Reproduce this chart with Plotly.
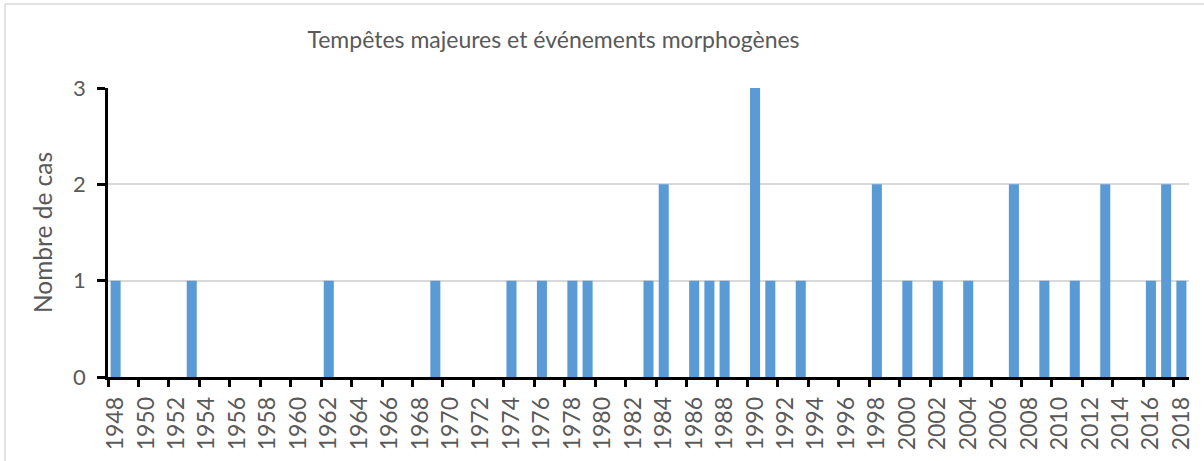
import plotly.graph_objects as go

# Nombre de tempêtes majeures / événements morphogènes par année
years = list(range(1948, 2019))
event_years = [1948, 1953, 1962, 1969, 1974, 1976, 1978, 1979, 1983, 1984,
               1986, 1987, 1988, 1990, 1991, 1993, 1998, 2000, 2002, 2004,
               2007, 2009, 2011, 2013, 2016, 2017, 2018]
event_counts = [1, 1, 1, 1, 1, 1, 1, 1, 1, 2,
                1, 1, 1, 3, 1, 1, 2, 1, 1, 1,
                2, 1, 1, 2, 1, 2, 1]
label_years = list(range(1948, 2019, 2))
y_ticks = [0, 1, 2, 3]

counts = {y: 0 for y in years}
for y, c in zip(event_years, event_counts):
    counts[y] = c
values = [counts[y] for y in years]

W, H = 1204, 461
L, R, T, B = 108, 15, 88, 84
pw, ph = W - L - R, H - T - B

text_col = "#595959"
font = "Lato"

fig = go.Figure()
fig.add_trace(go.Bar(x=years, y=values, marker_color="#5B9BD5",
                     marker_line_width=0, width=0.66, xaxis="x", yaxis="y"))

# invisible trace carrying the boundary tick axis
fig.add_trace(go.Scatter(x=[years[0]], y=[0], mode="markers",
                         marker=dict(opacity=0), xaxis="x2", yaxis="y",
                         hoverinfo="skip", showlegend=False))

fig.update_layout(
    width=W, height=H,
    margin=dict(l=L, r=R, t=T, b=B),
    paper_bgcolor="white", plot_bgcolor="white",
    showlegend=False,
    font=dict(family=font, color=text_col, size=21),
    xaxis=dict(
        range=[years[0] - 0.5, years[-1] + 0.5],
        tickmode="array", tickvals=label_years,
        ticktext=[str(y) for y in label_years],
        tickangle=-90, ticks="", ticklen=0, ticklabelstandoff=8,
        showgrid=False, zeroline=False,
        showline=True, linecolor="black", linewidth=2.5,
        tickfont=dict(size=23, color=text_col, family=font),
        automargin=False, fixedrange=True,
    ),
    xaxis2=dict(
        overlaying="x", matches="x", side="bottom",
        tickmode="array", tickvals=[y - 0.5 for y in label_years],
        showticklabels=False, ticks="outside", ticklen=9,
        tickwidth=2.5, tickcolor="black",
        showgrid=False, zeroline=False, showline=False,
        automargin=False,
    ),
    yaxis=dict(
        range=[0, 3], tickmode="array", tickvals=y_ticks,
        ticks="outside", ticklen=8, tickwidth=2.5, tickcolor="black",
        ticklabelstandoff=7,
        showgrid=True, gridcolor="#D9D9D9", gridwidth=1.5,
        zeroline=False,
        showline=True, linecolor="black", linewidth=2.5,
        tickfont=dict(size=22, color=text_col, family=font),
        title=dict(text="Nombre de cas", standoff=14,
                   font=dict(size=24.5, color=text_col, family=font)),
        automargin=False,
    ),
    title=dict(text="Tempêtes majeures et événements morphogènes",
               x=553.5 / W, xanchor="center",
               y=1 - 40 / H, yanchor="middle",
               xref="container", yref="container",
               font=dict(size=23, color=text_col, family=font)),
)

# light frame lines along the top and left edges of the chart
frame = dict(color="#D9D9D9", width=1.5)
x_left = (5 - L) / pw
y_top = ((H - B) - 4) / ph
fig.add_shape(type="line", xref="paper", yref="paper",
              x0=x_left, x1=(W + 20 - L) / pw, y0=y_top, y1=y_top,
              line=frame, layer="below")
fig.add_shape(type="line", xref="paper", yref="paper",
              x0=x_left, x1=x_left, y0=y_top, y1=-(H + 20 - (H - B)) / ph,
              line=frame, layer="below")

fig.write_html("out.html")
